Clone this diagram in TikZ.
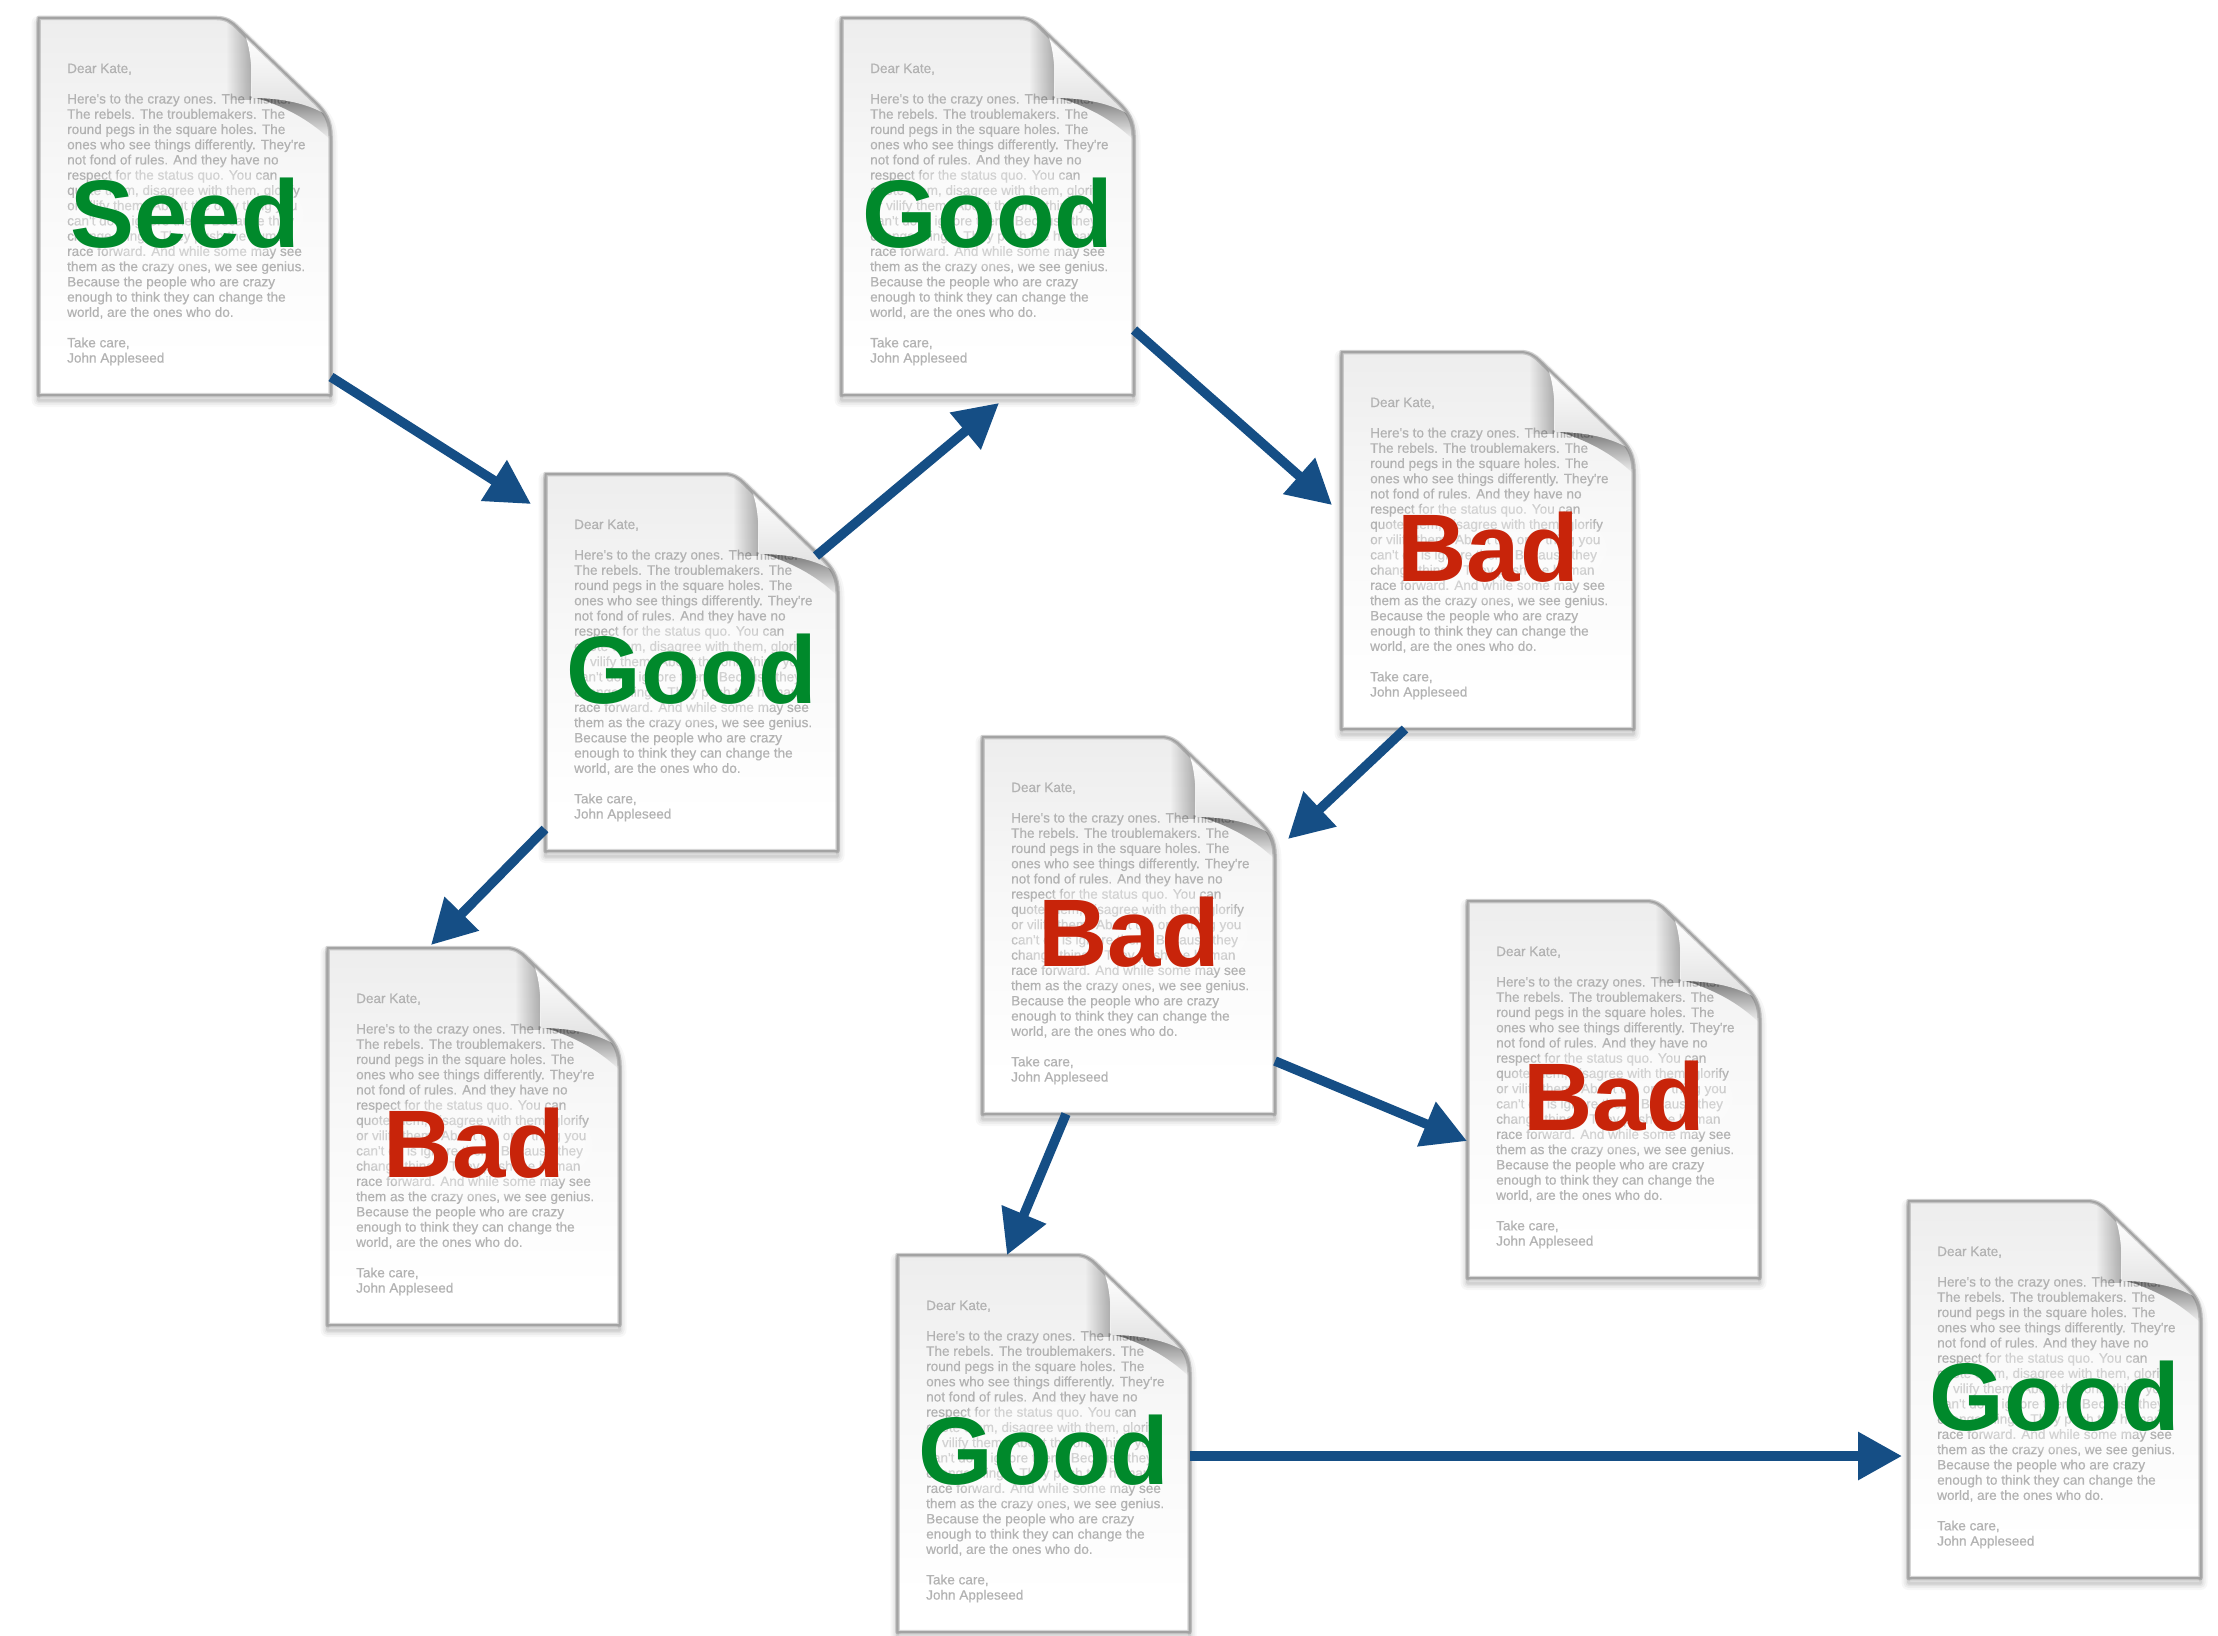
\documentclass[tikz,border=0pt]{standalone}
\usepackage{fontspec}
\setmainfont{Liberation Sans}
\newfontfamily\blurfont[FakeBold=0.5]{Liberation Sans}
\usetikzlibrary{arrows.meta,fadings}
\definecolor{goodgreen}{HTML}{00892B}
\definecolor{badred}{HTML}{C8240A}
\definecolor{arrowblue}{HTML}{154E85}
\pgfdeclareverticalshading{pagegrad}{100bp}{color(0bp)=(white);color(30bp)=(white);color(55bp)=(white!97!black);color(75bp)=(white!93!black);color(100bp)=(white!93!black)}
\tikzfading[name=fadeToRight,left color=transparent!100,right color=transparent!0]
\tikzfading[name=fadeToBottom,top color=transparent!0,bottom color=transparent!100]
\tikzset{
  x=1pt,y=-1pt,
  pageframe/.style={minimum width=293pt,minimum height=377pt,inner sep=0pt,outer sep=0pt,anchor=north west},
  bigword/.style={anchor=base,inner sep=0pt,font=\fontsize{96}{96}\selectfont\bfseries},
  bodytext/.style={anchor=north west,inner sep=0pt,align=left,text=black!30,font=\blurfont\fontsize{13.55}{15.24}\selectfont},
  wordhalo/.style={white,opacity=.42,path fading=circle with fuzzy edge 15 percent},
  flow/.style={draw=arrowblue,line width=9.5pt,-{Triangle[length=44pt,width=46pt,fill=arrowblue]}},
}
\newcommand{\pageoutline}{(0.5,0) -- (179,0) .. controls (188,0) and (194,4) .. (199,9) -- (278,85) .. controls (287,94) and (292.5,102) .. (292.5,118) -- (292.5,377) -- (0.5,377) -- cycle}
\newcommand{\docpage}[5]{%
 \begin{scope}[shift={(#1,#2)}]
  \foreach \w/\o in {14/.03,10/.04,6/.05,3/.07}{
    \draw[line width=\w pt,opacity=\o,black,line join=round] [shift={(0,5)}] \pageoutline;
  }
  \shade[shading=pagegrad] \pageoutline;
  \node[bodytext] (#3body) at (29,45.5) {Dear Kate,\\[15.24pt]Here's to the crazy ones. The misfits.\\The rebels. The troublemakers. The\\round pegs in the square holes. The\\ones who see things differently. They're\\not fond of rules. And they have no\\respect for the status quo. You can\\quote them, disagree with them, glorify\\or vilify them. About the only thing you\\can't do is ignore them. Because they\\change things. They push the human\\race forward. And while some may see\\them as the crazy ones, we see genius.\\Because the people who are crazy\\enough to think they can change the\\world, are the ones who do.\\[15.24pt]Take care,\\John Appleseed};
  \begin{scope}
   \clip \pageoutline;
   \fill[black,opacity=.28,path fading=fadeToRight] (188,0) rectangle (213,82);
   \fill[black,opacity=.5,path fading=fadeToBottom] (214,79) -- (292.5,79) -- (292.5,122) .. controls (272,102) and (245,87) .. (214,79) -- cycle;
  \end{scope}
  \shade[top color=white,bottom color=white!88!black] (207,17) -- (278,85) .. controls (282,89) and (285,92) .. (287,96) .. controls (270,86) and (245,80) .. (214,80) .. controls (214,60) and (214,35) .. (207,17) -- cycle;
  \draw[line width=4.5pt,opacity=.16,black,line join=round] \pageoutline;
  \draw[line width=2pt,black!36,line join=round] \pageoutline;
  \node[pageframe] (#3) at (0,0) {};
  \fill[wordhalo] (147,197) ellipse (125 and 55);
  \node[bigword,text=#5] (#3word) at (147,229.5) {#4};
 \end{scope}}
\begin{document}
\begin{tikzpicture}
\useasboundingbox (0,0) rectangle (2218,1635);
\docpage{38}{18}{seed}{Seed}{goodgreen}
\docpage{841}{18}{goodA}{Good}{goodgreen}
\docpage{545}{474}{goodB}{Good}{goodgreen}
\docpage{327}{948}{badA}{Bad}{badred}
\docpage{1341}{352}{badB}{Bad}{badred}
\docpage{982}{737}{badC}{Bad}{badred}
\docpage{1467}{901}{badD}{Bad}{badred}
\docpage{897}{1255}{goodC}{Good}{goodgreen}
\docpage{1908}{1201}{goodD}{Good}{goodgreen}
\draw[flow] ([shift={(293,359)}]seed.north west) -- ([shift={(-14,30)}]goodB.north west);
\draw[flow] ([shift={(271,82)}]goodB.north west) -- ([shift={(158,385)}]goodA.north west);
\draw[flow] ([shift={(293,312)}]goodA.north west) -- ([shift={(-9,153)}]badB.north west);
\draw[flow] ([shift={(64,377)}]badB.north west) -- ([shift={(306,102)}]badC.north west);
\draw[flow] ([shift={(0,355)}]goodB.north west) -- ([shift={(104,-3)}]badA.north west);
\draw[flow] ([shift={(84,377)}]badC.north west) -- ([shift={(110,0)}]goodC.north west);
\draw[flow] ([shift={(293,324)}]badC.north west) -- ([shift={(0,240)}]badD.north west);
\draw[flow] ([shift={(293,201)}]goodC.north west) -- ([shift={(-6,255)}]goodD.north west);
\end{tikzpicture}
\end{document}
